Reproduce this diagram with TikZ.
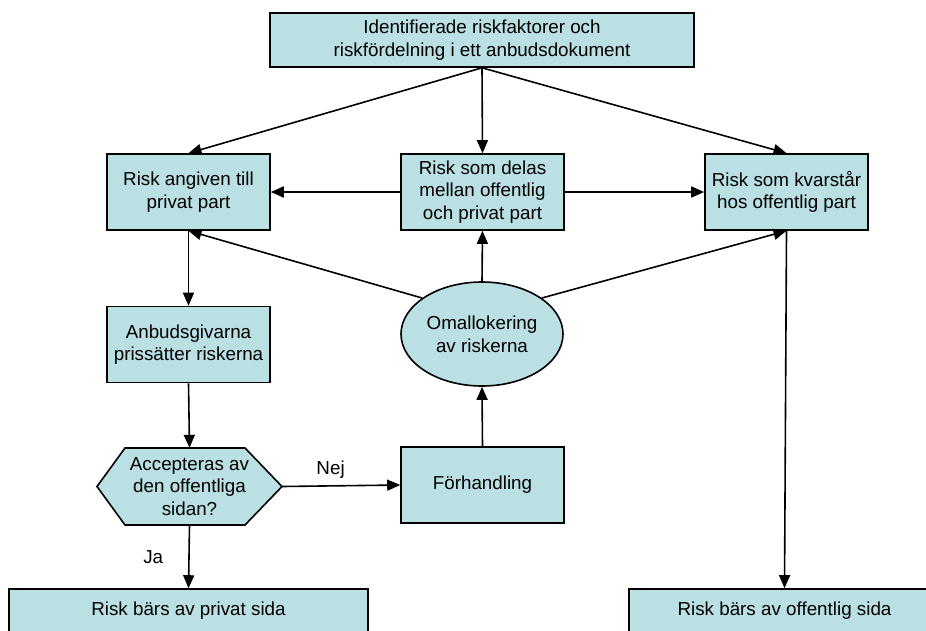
\documentclass[tikz,border=0pt]{standalone}
\usepackage{fontspec}
\setmainfont{Liberation Sans}
\usetikzlibrary{arrows.meta,shapes.geometric}
\definecolor{boxfill}{RGB}{187,224,227}
\begin{document}
\begin{tikzpicture}[x=1pt,y=-1pt,
  font=\fontsize{18.8}{22.6}\selectfont,
  box/.style={draw=black,fill=boxfill,line width=1.6pt,inner sep=0pt,align=center},
  stdbox/.style={box,minimum width=163pt,minimum height=76pt},
  conn/.style={line width=1.6pt,-{Triangle[length=13pt,width=11pt]}},
  lbl/.style={inner sep=0pt}]
\useasboundingbox (0,0) rectangle (926,630);
\clip (0,0) rectangle (926,630);

% top source box
\node[box,minimum width=424pt,minimum height=54pt] (top) at (482,40)
  {Identifierade riskfaktorer och\\riskfördelning i ett anbudsdokument};

% three allocation boxes
\node[stdbox] (lb)  at (188.5,192) {Risk angiven till\\privat part};
\node[stdbox] (mid) at (482.5,192) {Risk som delas\\mellan offentlig\\och privat part};
\node[stdbox] (rb)  at (786.5,192) {Risk som kvarstår\\hos offentlig part};

% pricing, reallocation and negotiation
\node[stdbox] (anb) at (188.5,344.5) {Anbudsgivarna\\prissätter riskerna};
\node[box,ellipse,minimum width=162pt,minimum height=104pt] (ell) at (482,334)
  {Omallokering\\av riskerna};
\node[stdbox] (fo) at (482.5,485) {Förhandling};

% decision hexagon
\path[box] (97,486.5) -- (125,448) -- (245,448) -- (282,486.5)
  -- (245,525) -- (125,525) -- cycle;
\node[inner sep=0pt,align=center,minimum width=185pt,minimum height=77pt] (hex)
  at (189.5,486.5) {Accepteras av\\den offentliga\\sidan?};

% outcome boxes
\node[box,minimum width=359pt,minimum height=44pt] (blb) at (188.5,611) {Risk bärs av privat sida};
\node[box,minimum width=311pt,minimum height=44pt] (brb) at (784.5,611) {Risk bärs av offentlig sida};

% connectors
\draw[conn] (top.south) -- (lb.north);
\draw[conn] (top.south) -- (mid.north);
\draw[conn] (top.south) -- (rb.north);
\draw[conn] (mid.west) -- (lb.east);
\draw[conn] (mid.east) -- (rb.west);
\draw[conn] (ell.north) -- (mid.south);
\draw[conn] (ell.149) -- (lb.south);
\draw[conn] (ell.31) -- (rb.south);
\draw[conn] (lb.south) -- (anb.north);
\draw[conn] (anb.south) -- (hex.north);
\draw[conn] (hex.east) -- node[lbl,pos=0.41,above=7pt] {Nej} (fo.west);
\draw[conn] (fo.north) -- (ell.south);
\draw[conn] (hex.south) -- node[lbl,midway,left=25pt] {Ja} (blb.north);
\draw[conn] (rb.south) -- (brb.north);
\end{tikzpicture}
\end{document}
